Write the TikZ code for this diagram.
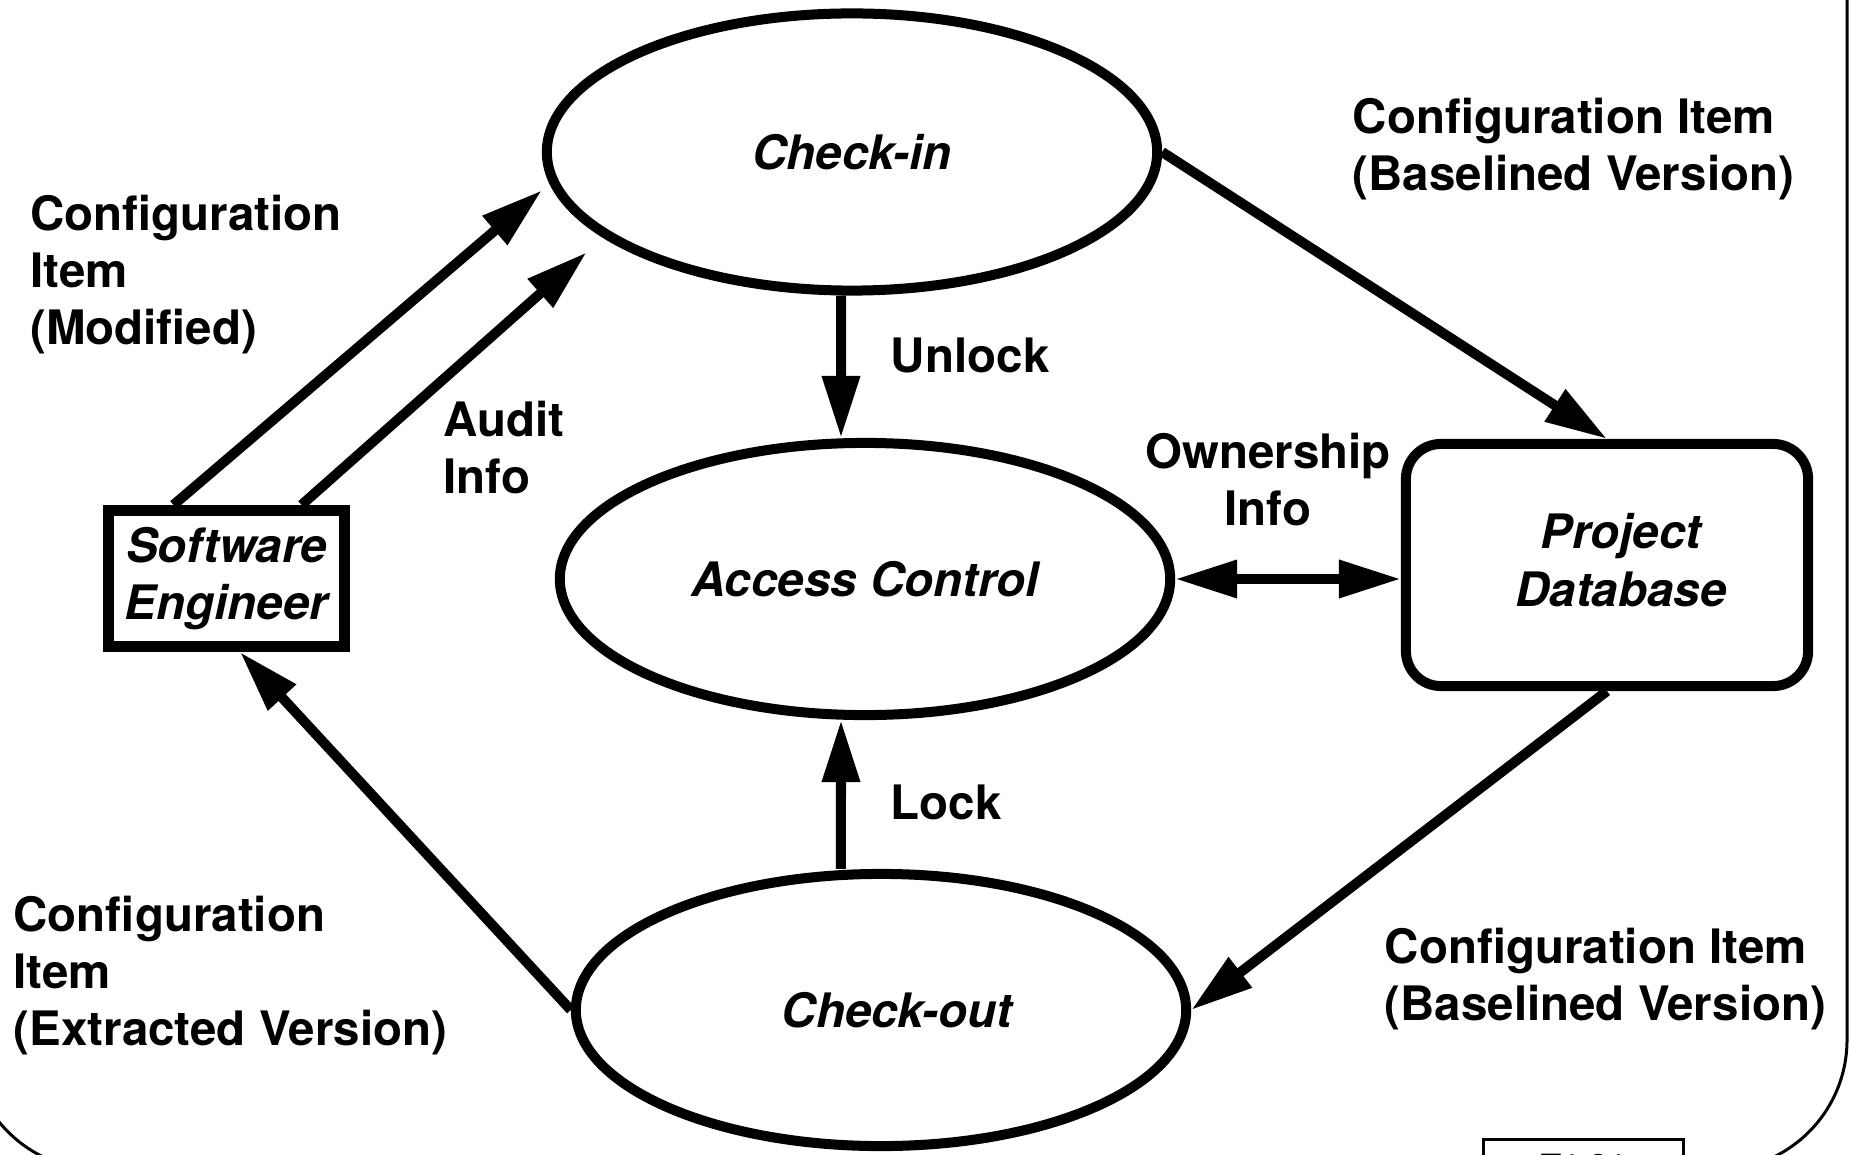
\documentclass[tikz,border=0pt]{standalone}
\usepackage{fontspec}
\setmainfont{TeX Gyre Heros}
\usetikzlibrary{arrows.meta,shapes.geometric}

\begin{document}
\begin{tikzpicture}[x=0.01cm,y=-0.01cm,
    >={Triangle[length=6.2mm,width=3.6mm]},
    every node/.style={font=\fontsize{13.5}{16.3}\selectfont\bfseries},
    title/.style={font=\fontsize{13.5}{16.3}\selectfont\bfseries\itshape, align=center},
    process/.style={ellipse, draw, line width=1mm, minimum width=6.1cm, minimum height=2.72cm, title},
    flow/.style={->, line width=1mm},
    note/.style={align=left, anchor=north west, inner sep=0pt},
  ]
  \useasboundingbox (0,0) rectangle (1849,1155);
  \draw[line width=0.3mm, rounded corners=1.3cm] (-30,-200) rectangle (1847,1170);

  \node[process, minimum height=2.77cm] (checkin) at (852,152) {Check-in};
  \node[process] (access) at (865,579) {Access Control};
  \node[process] (checkout) at (881,1010) {};
  \node[title] (checkouttext) at ([xshift=1.6mm]checkout.center) {Check-out};
  \node[draw, line width=1.1mm, minimum width=2.36cm, minimum height=1.36cm, inner sep=0pt, title]
    (se) at (226.5,578.5) {Software\\Engineer};
  \node[draw, line width=1mm, rounded corners=3.5mm, minimum width=4.02cm, minimum height=2.42cm]
    (pdb) at (1607,565) {};
  \node[title] (pdbtext) at ([xshift=1.4mm,yshift=0.5mm]pdb.center) {Project\\Database};

  \node[note] (modified) at (29.5,194) {Configuration\\Item\\(Modified)};
  \node[note] (audit) at (443,400) {Audit\\Info};
  \node[note] (unlock) at (890,337) {Unlock};
  \node[align=center, anchor=north, inner sep=0pt] (owner) at (1268,432) {Ownership\\Info};
  \node[note] (baselinein) at (1352,97) {Configuration Item\\(Baselined Version)};
  \node[note] (lock) at (890,784) {Lock};
  \node[note] (extracted) at (13,895) {Configuration\\Item\\(Extracted Version)};
  \node[note] (baselineout) at (1384,927) {Configuration Item\\(Baselined Version)};

  \node[draw, line width=0.3mm, anchor=north, minimum width=1.99cm, inner ysep=1.5mm,
    font=\fontsize{9.5}{11}\selectfont\bfseries] (slide) at (1583.5,1138) {T1 21};

  \draw[flow, shorten >=1mm] ([xshift=-5.3mm]se.north) -- (checkin.186);
  \draw[flow, shorten >=2.2mm] ([xshift=7.5mm]se.north) -- (checkin.199);
  \draw[flow] ([xshift=-1.1mm]checkin.south) -- ([xshift=-2.4mm]access.north);
  \draw[flow] ([xshift=-4mm]checkout.north) -- ([xshift=-2.4mm]access.south);
  \draw[flow] (checkin.east) -- (pdb.north);
  \draw[flow] (pdb.south) -- (checkout.east);
  \draw[flow] (checkout.west) -- ([xshift=1.35mm]se.south);
  \draw[<->, line width=1mm] (access.east) -- (access.east -| pdb.west);
\end{tikzpicture}
\end{document}
